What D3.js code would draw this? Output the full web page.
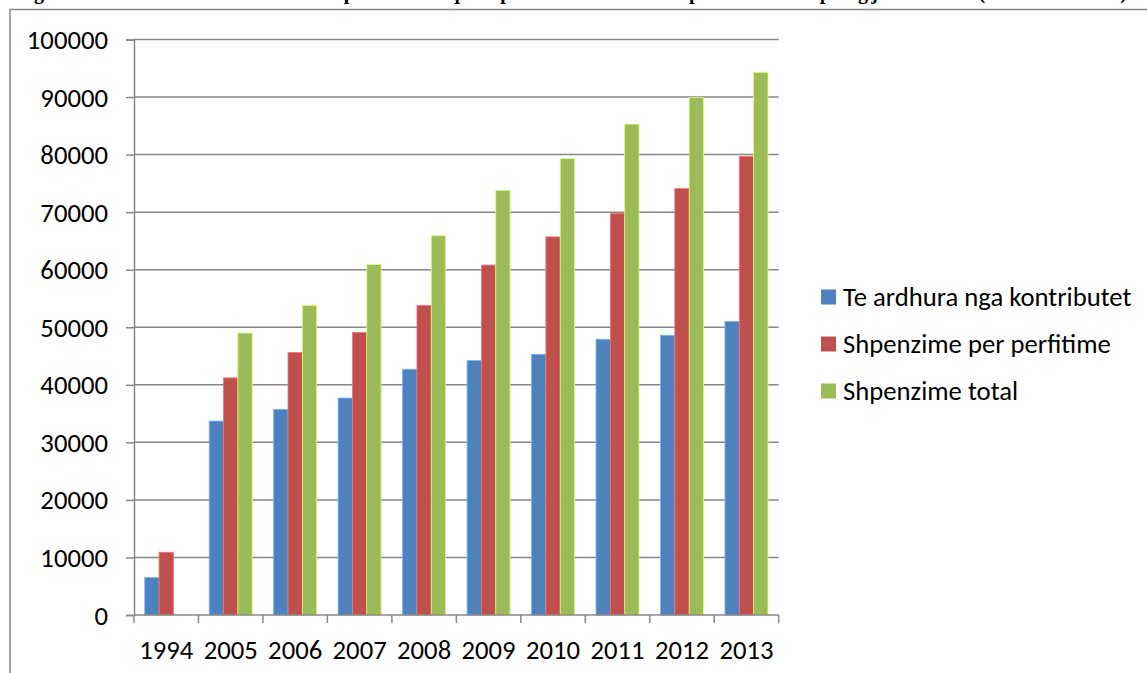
<!DOCTYPE html>
<html>
<head>
<meta charset="utf-8">
<script src="https://cdn.jsdelivr.net/npm/d3@7"></script>
<style>
  html, body { margin: 0; padding: 0; background: #fff; }
  svg { display: block; }
  .lbl { font-family: Carlito, "Open Sans", Lato, sans-serif; fill: #000; }
</style>
</head>
<body>
<svg id="chart" width="1147" height="673"></svg>
<script>
// Years on the category axis
const years = ["1994", "2005", "2006", "2007", "2008", "2009", "2010", "2011", "2012", "2013"];

// Series values (mln leke)
const contributions = [6500, 33700, 35700, 37700, 42700, 44200, 45300, 47900, 48600, 51000];
const benefitSpending = [10900, 41200, 45600, 49100, 53800, 60800, 65700, 69800, 74100, 79700];
const totalSpending = [null, 49000, 53800, 60900, 65900, 73800, 79300, 85300, 89900, 94300];

const seriesNames = ["Te ardhura nga kontributet", "Shpenzime per perfitime", "Shpenzime total"];
const seriesColors = ["#4F81BD", "#C0504D", "#9BBB59"];
const yTicks = [0, 10000, 20000, 30000, 40000, 50000, 60000, 70000, 80000, 90000, 100000];

const titleText = "Figura 5: Kontributet dhe shpenzimet per perfitime dhe shpenzimet e pergjithshme (ne mln leke)";

const series = [contributions, benefitSpending, totalSpending];

const svg = d3.select("#chart");
const gridColor = "#878787";
const fontSize = "26.7px";

// Caption line above the chart frame (mostly outside the page)
svg.append("text")
  .attr("x", 10).attr("y", -1)
  .attr("textLength", 1117).attr("lengthAdjust", "spacing")
  .style("font-family", "'Liberation Serif', 'Times New Roman', serif")
  .style("font-weight", "bold").style("font-size", "20px")
  .text(titleText);

// Chart frame
svg.append("rect")
  .attr("x", 10).attr("y", 9.5).attr("width", 1400).attr("height", 900)
  .attr("fill", "none").attr("stroke", gridColor).attr("stroke-width", 1.5);

const plot = { left: 134, right: 778.7, top: 39.5, bottom: 615 };

const x = d3.scaleBand().domain(years).range([plot.left, plot.right]).padding(0);
const y = d3.scaleLinear().domain([0, 100000]).range([plot.bottom, plot.top]);
// Three bars per year with Excel-like gap width (150%)
const xs = d3.scaleBand().domain(d3.range(3))
  .range([x.bandwidth() * 1.5 / 9, x.bandwidth() * 7.5 / 9]).padding(0);

// Horizontal gridlines
svg.append("g").selectAll("line").data(yTicks.slice(1)).join("line")
  .attr("x1", plot.left).attr("x2", plot.right)
  .attr("y1", d => y(d)).attr("y2", d => y(d))
  .attr("stroke", gridColor).attr("stroke-width", 1.5);

// Y axis
const yAxis = svg.append("g").attr("transform", `translate(${plot.left},0)`)
  .call(d3.axisLeft(y).tickValues(yTicks).tickSize(8).tickPadding(18).tickFormat(d3.format("d")));
yAxis.select(".domain").attr("stroke", gridColor).attr("stroke-width", 1.5);
yAxis.selectAll(".tick line").attr("stroke", gridColor).attr("stroke-width", 1.5);
yAxis.selectAll(".tick text").attr("class", "lbl").style("font-size", fontSize).attr("dy", "0.34em");

// Bars
const groups = svg.append("g").selectAll("g").data(years).join("g")
  .attr("transform", d => `translate(${x(d)},0)`);
groups.selectAll("rect")
  .data((yr, i) => series.map((s, k) => ({ k, v: s[i] })).filter(d => d.v != null))
  .join("rect")
  .attr("x", d => xs(d.k))
  .attr("width", xs.bandwidth())
  .attr("y", d => y(d.v))
  .attr("height", d => y(0) - y(d.v))
  .attr("fill", d => seriesColors[d.k])
  .attr("stroke", d => d3.color(seriesColors[d.k]).brighter(0.9))
  .attr("stroke-width", 0.8);

// X axis with ticks between categories
const xAxisG = svg.append("g").attr("transform", `translate(0,${plot.bottom})`);
xAxisG.append("line")
  .attr("x1", plot.left).attr("x2", plot.right)
  .attr("stroke", gridColor).attr("stroke-width", 1.5);
const boundaries = years.map(d => x(d)).concat([x(years[years.length - 1]) + x.bandwidth()]);
xAxisG.selectAll("line.tk").data(boundaries).join("line").attr("class", "tk")
  .attr("x1", d => d).attr("x2", d => d).attr("y1", 0).attr("y2", 8)
  .attr("stroke", gridColor).attr("stroke-width", 1.5);
xAxisG.selectAll("text").data(years).join("text")
  .attr("class", "lbl")
  .attr("x", d => x(d) + x.bandwidth() / 2)
  .attr("y", 35)
  .attr("dy", "0.34em")
  .attr("text-anchor", "middle")
  .style("font-size", fontSize)
  .text(d => d);

// Legend
const legend = svg.append("g").attr("transform", "translate(821,297)");
const lg = legend.selectAll("g").data(seriesNames).join("g")
  .attr("transform", (d, i) => `translate(0,${i * 47})`);
lg.append("rect").attr("x", 0).attr("y", -7.5).attr("width", 15).attr("height", 15)
  .attr("fill", (d, i) => seriesColors[i]);
lg.append("text").attr("class", "lbl")
  .attr("x", 22).attr("y", 0).attr("dy", "0.34em")
  .style("font-size", fontSize)
  .text(d => d);
</script>
</body>
</html>
